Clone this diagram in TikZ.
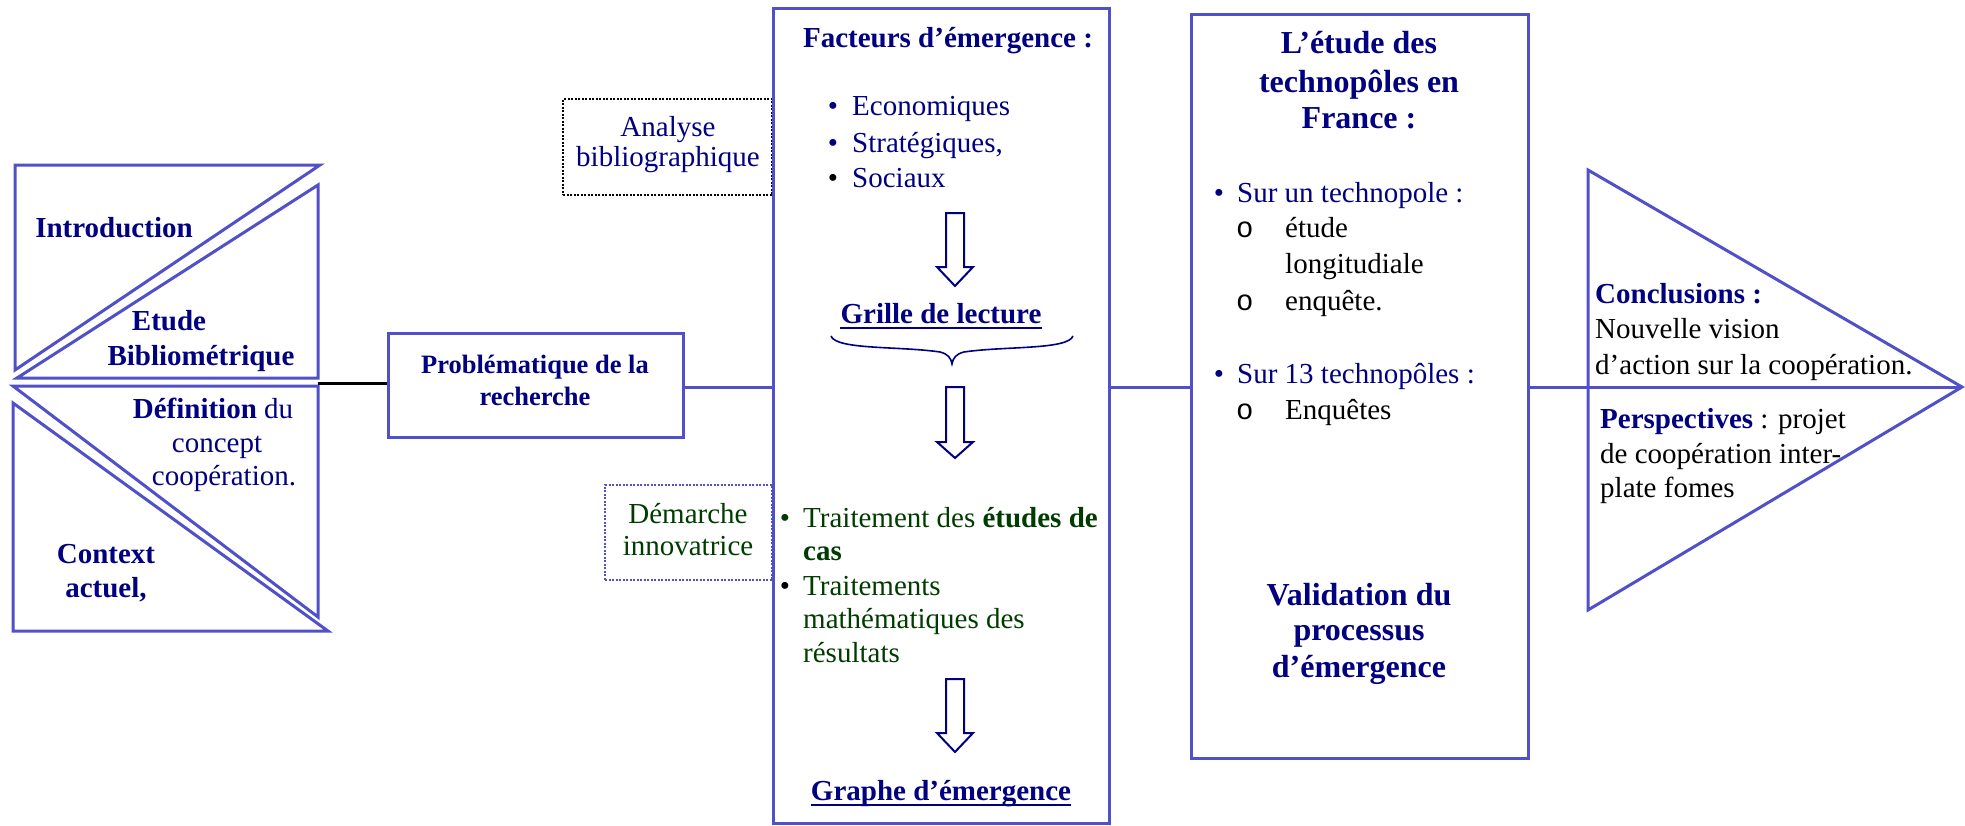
\documentclass[tikz,border=0pt]{standalone}
\usepackage{fontspec}
\setmainfont{Liberation Serif}
\newfontfamily\monof{Liberation Mono}
\definecolor{lb}{RGB}{80,80,200}
\definecolor{nv}{RGB}{0,0,128}
\definecolor{gr}{RGB}{0,60,0}
\begin{document}
\begin{tikzpicture}[x=1pt,y=-1pt,
  ln/.style={draw=lb,line width=3pt,line join=miter},
  box/.style={draw=lb,line width=3pt,inner sep=0pt},
  t/.style={inner sep=0pt,anchor=base,font=\fontsize{29}{34}\selectfont},
  tw/.style={t,anchor=base west},
  tb/.style={t,font=\fontsize{29}{34}\selectfont\bfseries},
  tt/.style={t,font=\fontsize{32}{38}\selectfont\bfseries,text=nv},
  circ/.style={tw,font=\fontsize{29}{34}\monof},
  hollow/.style={draw=nv,line width=2pt,line join=miter},
  ul/.style={draw=nv,line width=2pt}
]
\useasboundingbox (0,0) rectangle (1965,825);

% left triangles
\draw[ln] (15,165) -- (320,165) -- (15,370) -- cycle;
\draw[ln] (318,185) -- (318,378) -- (17,378) -- cycle;
\draw[ln] (13,386) -- (318,386) -- (318,617) -- cycle;
\draw[ln] (13,403) -- (13,631) -- (328,631) -- cycle;

\node[tb,text=nv] (intro) at (114,237) {Introduction};
\node[tb,text=nv] (etu1) at (169,330) {Etude};
\node[tb,text=nv] (etu2) at (201,365) {Bibliométrique};
\node[t,text=nv] (def1) at (213,418) {\textbf{Définition} du};
\node[t,text=nv] (def2) at (217,452) {concept};
\node[t,text=nv] (def3) at (224,485) {coopération.};
\node[tb,text=nv] (ctx1) at (106,563) {Context};
\node[tb,text=nv] (ctx2) at (106,597) {actuel,};

% problematique
\node[box,minimum width=295,minimum height=104] (prob) at (535.5,385) {};
\node[t,font=\fontsize{26.5}{31}\selectfont\bfseries,text=nv] (prob1) at (535,373) {Problématique de la};
\node[t,font=\fontsize{26.5}{31}\selectfont\bfseries,text=nv] (prob2) at (535,405) {recherche};
\coordinate (lj) at (318,383);
\coordinate (hl) at (0,387);

% dotted side boxes
\node[draw=black,line width=2pt,dash pattern=on 2pt off 1.5pt,inner sep=0pt,minimum width=209,minimum height=96] (ana) at (667.5,147) {};
\node[t,text=nv] (ana1) at (668,136) {Analyse};
\node[t,text=nv] (ana2) at (668,166) {bibliographique};
\node[draw=lb,line width=2pt,dash pattern=on 2pt off 1.5pt,inner sep=0pt,minimum width=167,minimum height=95] (dem) at (688.5,532.5) {};
\node[t,text=gr] (dem1) at (688,523) {Démarche};
\node[t,text=gr] (dem2) at (688,555) {innovatrice};

% central box
\node[box,minimum width=336,minimum height=815] (central) at (941,415.5) {};
\node[tb,text=nv] (fac) at (948,47) {Facteurs d’émergence :};
\node[t,text=nv] (b1) at (833,115) {•};
\node[tw,text=nv] (e1) at (852,115) {Economiques};
\node[t,text=nv] (b2) at (833,152) {•};
\node[tw,text=nv] (e2) at (852,152) {Stratégiques,};
\node[t] (b3) at (833,187) {•};
\node[tw,text=nv] (e3) at (852,187) {Sociaux};
\foreach \a/\b/\c in {213/267/286, 387/442/458, 679/733/752}
  \draw[hollow] (946,\a) -- (964,\a) -- (964,\b) -- (973,\b) -- (955,\c) -- (937,\b) -- (946,\b) -- cycle;
\node[tb,text=nv] (grille) at (941,323) {Grille de lecture};
\draw[ul] ([yshift=-5pt]grille.base west) -- ([yshift=-5pt]grille.base east);
\draw[draw=nv,line width=1.6pt] (831,336) .. controls (836,350) and (900,346) .. (940,352) .. controls (948,354) and (951,358) .. (952,364)
  .. controls (953,358) and (956,354) .. (964,352) .. controls (1004,346) and (1068,350) .. (1073,336);
\node[t,text=gr] (g1) at (785,527) {•};
\node[tw,text=gr] (gt1) at (803,527) {Traitement des \textbf{études de}};
\node[tw,text=gr,font=\fontsize{29}{34}\selectfont\bfseries] (gt2) at (803,560) {cas};
\node[t] (g2) at (785,595) {•};
\node[tw,text=gr] (gt3) at (803,595) {Traitements};
\node[tw,text=gr] (gt4) at (803,628) {mathématiques des};
\node[tw,text=gr] (gt5) at (803,662) {résultats};
\node[tb,text=nv] (graphe) at (941,800) {Graphe d’émergence};
\draw[ul] ([yshift=-5pt]graphe.base west) -- ([yshift=-5pt]graphe.base east);

% right box
\node[box,minimum width=337,minimum height=744] (rbox) at (1359.5,386) {};
\node[tt] (r1) at (1359,53) {L’étude des};
\node[tt] (r2) at (1359,92) {technopôles en};
\node[tt] (r3) at (1359,128) {France :};
\node[t,text=nv] (rb1) at (1219,202) {•};
\node[tw,text=nv] (rs1) at (1237,202) {Sur un technopole :};
\node[circ] (ro1) at (1236,237) {o};
\node[tw] (rt1) at (1285,237) {étude};
\node[tw] (rt2) at (1285,273) {longitudiale};
\node[circ] (ro2) at (1236,310) {o};
\node[tw] (rt3) at (1285,310) {enquête.};
\node[t,text=nv] (rb2) at (1219,383) {•};
\node[tw,text=nv] (rs2) at (1237,383) {Sur 13 technopôles :};
\node[circ] (ro3) at (1236,419) {o};
\node[tw] (rt4) at (1285,419) {Enquêtes};
\node[tt] (v1) at (1359,605) {Validation du};
\node[tt] (v2) at (1359,640) {processus};
\node[tt] (v3) at (1359,677) {d’émergence};

% final triangle
\coordinate (tip) at (1962,387);
\coordinate (tt1) at (1588,170);
\coordinate (tt2) at (1588,610);
\draw[ln] (tt1) -- (tip) -- (tt2) -- cycle;
\node[tw,font=\fontsize{29}{34}\selectfont\bfseries,text=nv] (c1) at (1595,303) {Conclusions :};
\node[tw] (c2) at (1595,338) {Nouvelle vision};
\node[tw] (c3) at (1595,374) {d’action sur la coopération.};
\node[tw] (p1) at (1600,428) {\textbf{\color{nv}Perspectives} : projet};
\node[tw] (p2) at (1600,463) {de coopération inter-};
\node[tw] (p3) at (1600,497) {plate fomes};

% connectors
\draw[black,line width=3pt] (lj) -- (lj -| prob.west);
\draw[ln] (prob.east |- hl) -- (central.west |- hl);
\draw[ln] (central.east |- hl) -- (rbox.west |- hl);
\draw[ln] (rbox.east |- hl) -- (tip);
\end{tikzpicture}
\end{document}
